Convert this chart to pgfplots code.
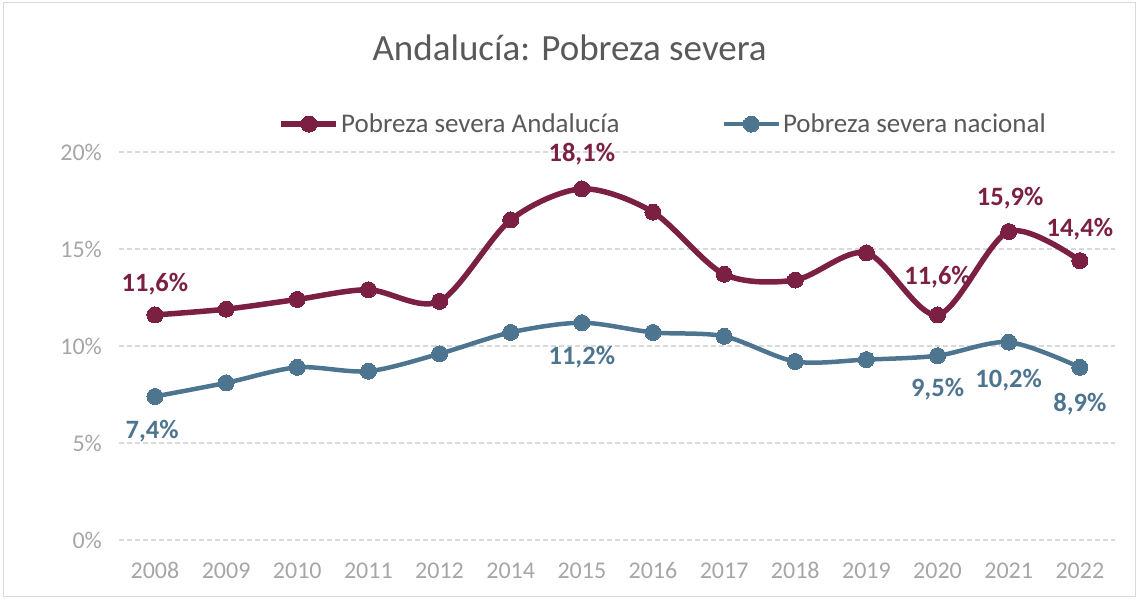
\documentclass[border=0pt]{standalone}
\usepackage{fontspec}
\setmainfont{Carlito}
\usepackage{pgfplots}
\pgfplotsset{compat=1.18}

\definecolor{andal}{HTML}{7B2043}
\definecolor{nacio}{HTML}{4E7590}
\definecolor{ticktxt}{HTML}{A6A6A6}
\definecolor{titletxt}{HTML}{595959}
\definecolor{gridc}{HTML}{D9D9D9}

\begin{document}
\begin{tikzpicture}[x=1pt,y=1pt]
\useasboundingbox (-119.4,-59) rectangle (1019.6,540);
\draw[gridc, line width=1pt] (-116,-56) rectangle (1016,537);
\begin{axis}[
  at={(0,0)}, anchor=south west,
  scale only axis,
  width=996pt, height=388pt,
  xmin=-0.5, xmax=13.5,
  ymin=0, ymax=20,
  axis line style={draw=none},
  clip=false,
  xtick={0,...,13},
  xticklabels={2008,2009,2010,2011,2012,2014,2015,2016,2017,2018,2019,2020,2021,2022},
  ytick={0,5,10,15,20},
  yticklabels={0\%,5\%,10\%,15\%,20\%},
  tick style={draw=none},
  ymajorgrids,
  grid style={gridc, line width=1.2pt, dash pattern=on 5pt off 3pt},
  ticklabel style={font=\fontsize{24}{28}\selectfont, text=ticktxt},
  xticklabel style={yshift=-19pt},
  yticklabel style={xshift=-14pt},
  legend columns=2,
  legend style={draw=none, fill=none, at={(0.546,1.072)}, anchor=center,
    font=\fontsize{27}{32}\selectfont, text=titletxt,
    /tikz/every even column/.append style={column sep=100pt}},
  legend image code/.code={
    \draw[#1, mark=none] (0pt,0pt) -- (55pt,0pt);
    \draw[#1, only marks] plot coordinates {(27.5pt,0pt)};
  },
]
\addplot[andal, line width=5.5pt, smooth, tension=0.5, mark=*, mark size=8pt,
  mark options={line width=0pt}] coordinates {
  (0,11.6) (1,11.9) (2,12.4) (3,12.9) (4,12.3) (5,16.5) (6,18.1)
  (7,16.9) (8,13.7) (9,13.4) (10,14.8) (11,11.6) (12,15.9) (13,14.4)
};
\addlegendentry{Pobreza severa Andalucía}
\addplot[nacio, line width=4.5pt, smooth, tension=0.5, mark=*, mark size=8pt,
  mark options={line width=0pt}] coordinates {
  (0,7.4) (1,8.1) (2,8.9) (3,8.7) (4,9.6) (5,10.7) (6,11.2)
  (7,10.7) (8,10.5) (9,9.2) (10,9.3) (11,9.5) (12,10.2) (13,8.9)
};
\addlegendentry{Pobreza severa nacional}

\node[text=titletxt, font=\fontsize{37}{44}\selectfont] at (rel axis cs:0.452,1.268) {Andalucía: Pobreza severa};

\begin{scope}[every node/.style={font=\bfseries\fontsize{26.5}{31}\selectfont}]
\node[text=andal] at (axis cs:0,13.2) {11,6\%};
\node[text=andal] at (axis cs:6,19.9) {18,1\%};
\node[text=andal] at (axis cs:11,13.56) {11,6\%};
\node[text=andal] at (axis cs:12.02,17.6) {15,9\%};
\node[text=andal] at (axis cs:13,16.0) {14,4\%};
\node[text=nacio] at (axis cs:-0.04,5.6) {7,4\%};
\node[text=nacio] at (axis cs:6,9.4) {11,2\%};
\node[text=nacio] at (axis cs:11,7.8) {9,5\%};
\node[text=nacio] at (axis cs:12,8.25) {10,2\%};
\node[text=nacio] at (axis cs:13,7.0) {8,9\%};
\end{scope}
\end{axis}
\end{tikzpicture}
\end{document}
